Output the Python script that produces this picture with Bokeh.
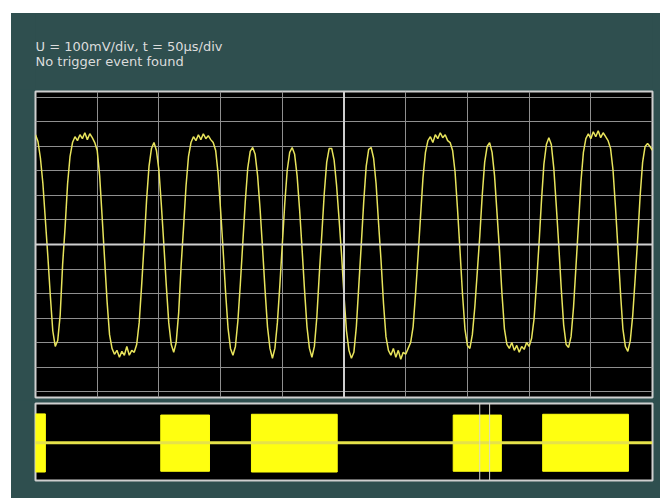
from bokeh.plotting import figure
from bokeh.models import Range1d, Grid, FixedTicker, Span, Column
from bokeh.core.properties import value
from bokeh.embed import file_html
from bokeh.resources import INLINE

# ---- data ----
header_lines = ["U = 100mV/div, t = 50µs/div", "No trigger event found"]

# main trace: voltage in mV, one sample every 2 µs from 0 to 500 µs
sample_step_us = 2
trace_mv = [
    112, 105, 88, 62, 25, -12, -52, -88, -104, -98,
    -72, -20, 18, 62, 90, 104, 110, 106, 112, 108,
    114, 107, 113, 109, 104, 96, 70, 28, -15, -58,
    -92, -106, -112, -108, -115, -109, -113, -104, -113, -108,
    -110, -102, -80, -42, 0, 45, 80, 98, 104, 96,
    76, 40, 0, -42, -80, -102, -110, -100, -70, -22,
    18, 60, 90, 104, 110, 106, 112, 107, 113, 108,
    111, 107, 104, 96, 72, 35, -5, -48, -85, -106,
    -113, -104, -78, -40, 2, 44, 78, 95, 99, 92,
    70, 36, -4, -46, -84, -106, -116, -106, -80, -42,
    0, 42, 76, 94, 99, 92, 70, 36, -4, -46,
    -84, -106, -115, -104, -74, -30, 10, 52, 84, 98,
    98, 86, 60, 26, -10, -52, -88, -108, -116, -110,
    -84, -42, 0, 44, 80, 97, 99, 88, 62, 22,
    -16, -60, -94, -108, -113, -106, -115, -108, -117, -110,
    -112, -106, -100, -84, -50, -12, 28, 68, 94, 106,
    110, 104, 112, 108, 114, 109, 112, 106, 104, 96,
    74, 36, -6, -50, -86, -103, -106, -92, -64, -28,
    8, 50, 84, 100, 104, 94, 70, 32, -6, -50,
    -86, -102, -106, -100, -108, -103, -110, -104, -107, -100,
    -104, -96, -76, -40, 0, 44, 82, 102, 109, 102,
    78, 40, 0, -44, -82, -102, -105, -94, -64, -22,
    20, 64, 94, 108, 113, 108, 115, 110, 116, 109,
    114, 110, 106, 98, 76, 38, -4, -48, -86, -104,
    -109, -98, -72, -34, 6, 50, 84, 100, 103, 100,
    96,
]
time_us = [i * sample_step_us for i in range(len(trace_mv))]

# overview strip: burst positions in % of record length, relative envelope
burst_start = [0.0, 20.3, 35.0, 67.7, 82.2]
burst_end = [1.6, 28.2, 48.9, 75.5, 96.1]
burst_top = [0.73, 0.70, 0.72, 0.70, 0.72]
burst_bottom = [-0.78, -0.76, -0.78, -0.76, -0.76]
idle_level = [-0.02]
window_markers = [72.0, 73.6]

# grid positions
x_div_us = [50, 100, 150, 200, 300, 350, 400, 450]
x_center_us = 250
y_div_mv = [-150, -125, -100, -75, -50, -25, 25, 50, 75, 100, 125, 150]
y_center_mv = 0

TEAL = "#2f4f4f"
GRID = "#8f8f8f"
BRIGHT = "#cfcfcf"

W = 649

# ---- header with the status text (frame aligned with the screens below) ----
h = figure(width=W, height=76, output_backend="svg", toolbar_location=None,
           x_range=Range1d(0, 617), y_range=Range1d(0, 76),
           x_axis_location=None, y_axis_location=None,
           min_border_left=24, min_border_right=8, min_border_top=0, min_border_bottom=0)
h.grid.visible = False
h.background_fill_color = TEAL
h.border_fill_color = TEAL
h.outline_line_color = None
h.text(x=[0, 0], y=[43.5, 28.5], text=header_lines, text_color="#dcdcdc",
       text_font=value("DejaVu Sans"), text_font_size="13px",
       text_baseline="alphabetic", text_align="left")

# ---- main scope screen ----
p = figure(width=W, height=311, output_backend="svg", toolbar_location=None,
           x_range=Range1d(0, 500), y_range=Range1d(-156.1, 156.1),
           x_axis_location=None, y_axis_location=None,
           min_border_left=24, min_border_right=8, min_border_top=2, min_border_bottom=3)
p.grid.visible = False
p.background_fill_color = "black"
p.border_fill_color = TEAL
p.outline_line_color = BRIGHT
p.outline_line_width = 2

p.add_layout(Grid(dimension=0, ticker=FixedTicker(ticks=x_div_us),
                  grid_line_color=GRID, grid_line_width=1))
p.add_layout(Grid(dimension=1, ticker=FixedTicker(ticks=y_div_mv),
                  grid_line_color=GRID, grid_line_width=1))
p.add_layout(Span(location=x_center_us, dimension="height", line_color=BRIGHT, line_width=2))
p.add_layout(Span(location=y_center_mv, dimension="width", line_color=BRIGHT, line_width=2))

p.line(time_us, trace_mv, line_color="#e8e45c", line_width=1.5)

# ---- overview strip ----
q = figure(width=W, height=98, output_backend="svg", toolbar_location=None,
           x_range=Range1d(0, 100), y_range=Range1d(-1, 1),
           x_axis_location=None, y_axis_location=None,
           min_border_left=24, min_border_right=8, min_border_top=3, min_border_bottom=18)
q.grid.visible = False
q.background_fill_color = "black"
q.border_fill_color = TEAL
q.outline_line_color = BRIGHT
q.outline_line_width = 2

q.add_layout(Span(location=idle_level[0], dimension="width", line_color="#e6e24a", line_width=3))
q.quad(left=burst_start, right=burst_end, top=burst_top, bottom=burst_bottom,
       fill_color="#ffff10", line_color="#ffff10", line_width=1)
for m in window_markers:
    q.add_layout(Span(location=m, dimension="height", line_color="#d8d8c8", line_width=1))

layout = Column(h, p, q, spacing=0, margin=(13, 0, 0, 11),
                styles={"background-color": TEAL})
open("out.html", "w").write(file_html(layout, INLINE))
